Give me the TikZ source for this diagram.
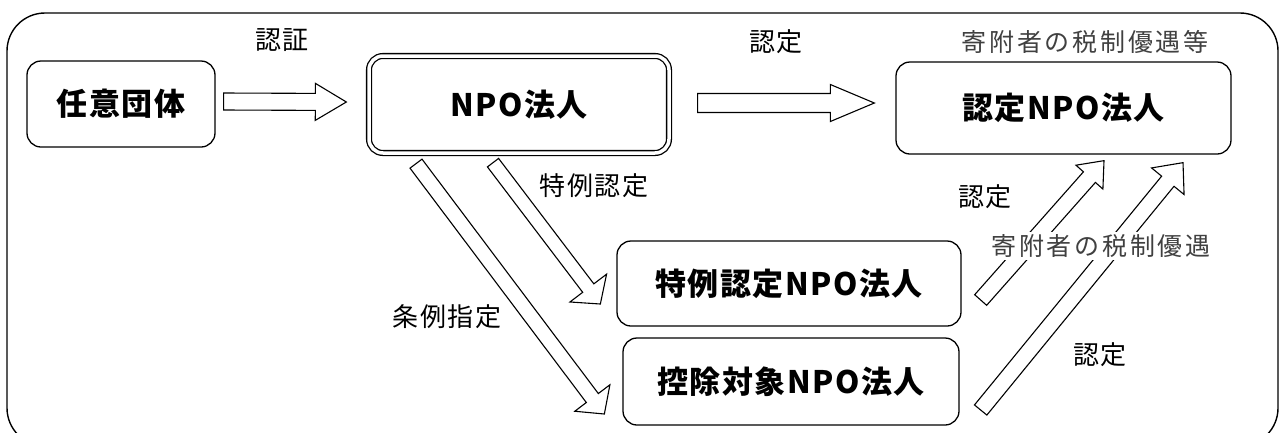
\documentclass[tikz,border=0pt]{standalone}
\usepackage{fontspec}
\newfontfamily\jpbox[LetterSpace=5]{Noto Sans CJK JP}
\newfontfamily\jplabel[LetterSpace=6]{Noto Sans CJK JP}
\newfontfamily\jpthin[LetterSpace=11]{Noto Sans CJK JP}
\usetikzlibrary{calc}

% hollow block arrow: tail, tip, half shaft, half head, head length
\newcommand{\hollowarrow}[5]{%
    \coordinate (hb) at ($(#2)!#5!(#1)$);
    \draw[blockline] ($(#1)!#3!90:(#2)$) -- ($(hb)!#3!90:(#2)$) -- ($(hb)!#4!90:(#2)$)
        -- (#2) -- ($(hb)!#4!-90:(#2)$) -- ($(hb)!#3!-90:(#2)$) -- ($(#1)!#3!-90:(#2)$) -- cycle;
}

\begin{document}
\begin{tikzpicture}[x=1pt, y=-1pt,
    box/.style={draw, line width=1.3pt, rounded corners=14pt, inner sep=0pt,
        font=\jpbox\bfseries\fontsize{31}{33}\selectfont},
    dbox/.style={box, double, double distance=3.5pt},
    lbl/.style={font=\jplabel\fontsize{26}{28}\selectfont},
    thin/.style={font=\jpthin\fontsize{25}{27}\selectfont, text=black!75},
    blockline/.style={draw, line width=1.1pt, fill=white, line join=miter}]

    \useasboundingbox (0,0) rectangle (1281,432);
    \clip (0,0) rectangle (1281,432);
    \draw[line width=1.4pt, rounded corners=38pt] (7,13) rectangle (1278,446);

    \node[box, minimum width=188, minimum height=86] (nini) at (121,104) {任意団体};
    \node[dbox, minimum width=300, minimum height=97] (npo) at (519,104.5) {NPO法人};
    \node[box, minimum width=335, minimum height=92] (nint) at (1063.5,108) {認定NPO法人};
    \node[box, minimum width=344, minimum height=85] (ntok) at (789,283.5) {特例認定NPO法人};
    \node[box, minimum width=336, minimum height=87] (nkoj) at (791,381.5) {控除対象NPO法人};

    \node[lbl] (lninsho) at (282,40) {認証};
    \node[lbl] (lnintei) at (776,42) {認定};
    \node[thin] (lyugu) at (1085,42) {寄附者の税制優遇等};
    \node[lbl] (ltokrei) at (594,186) {特例認定};
    \node[lbl] (ljorei) at (447,317) {条例指定};
    \node[lbl] (lnintok) at (985,197) {認定};
    \node[lbl] (lnintkoj) at (1100,355) {認定};

    \coordinate (t1) at ($(nini.east)+(8,-2.5)$);
    \coordinate (h1) at ($(npo.west)+(-22,-2.5)$);
    \coordinate (t2) at ($(npo.east)+(28,-1.5)$);
    \coordinate (h2) at ($(nint.west)+(-21,-5)$);
    \coordinate (t3) at ($(npo.south)+(-26,9)$);
    \coordinate (h3) at ($(ntok.west)+(-16,20.5)$);
    \coordinate (t4) at ($(npo.south)+(-103,10)$);
    \coordinate (h4) at ($(nkoj.west)+(-18,32.5)$);
    \coordinate (t5) at ($(ntok.east)+(19,16.5)$);
    \coordinate (h5) at ($(nint.south)+(40.5,6)$);
    \coordinate (t6) at ($(nkoj.east)+(21,28.5)$);
    \coordinate (h6) at ($(nint.south)+(119.5,8)$);

    \hollowarrow{t1}{h1}{8.5pt}{18.5pt}{31pt}
    \hollowarrow{t2}{h2}{9.5pt}{18.5pt}{44pt}
    \hollowarrow{t3}{h3}{7pt}{23pt}{20pt}
    \hollowarrow{t4}{h4}{7.5pt}{22pt}{20pt}
    \hollowarrow{t5}{h5}{8pt}{18pt}{22pt}
    \hollowarrow{t6}{h6}{8pt}{21pt}{24pt}

    \node[thin, fill=white, inner sep=2pt] (lyugu2) at (1101,246) {寄附者の税制優遇};

\end{tikzpicture}
\end{document}
